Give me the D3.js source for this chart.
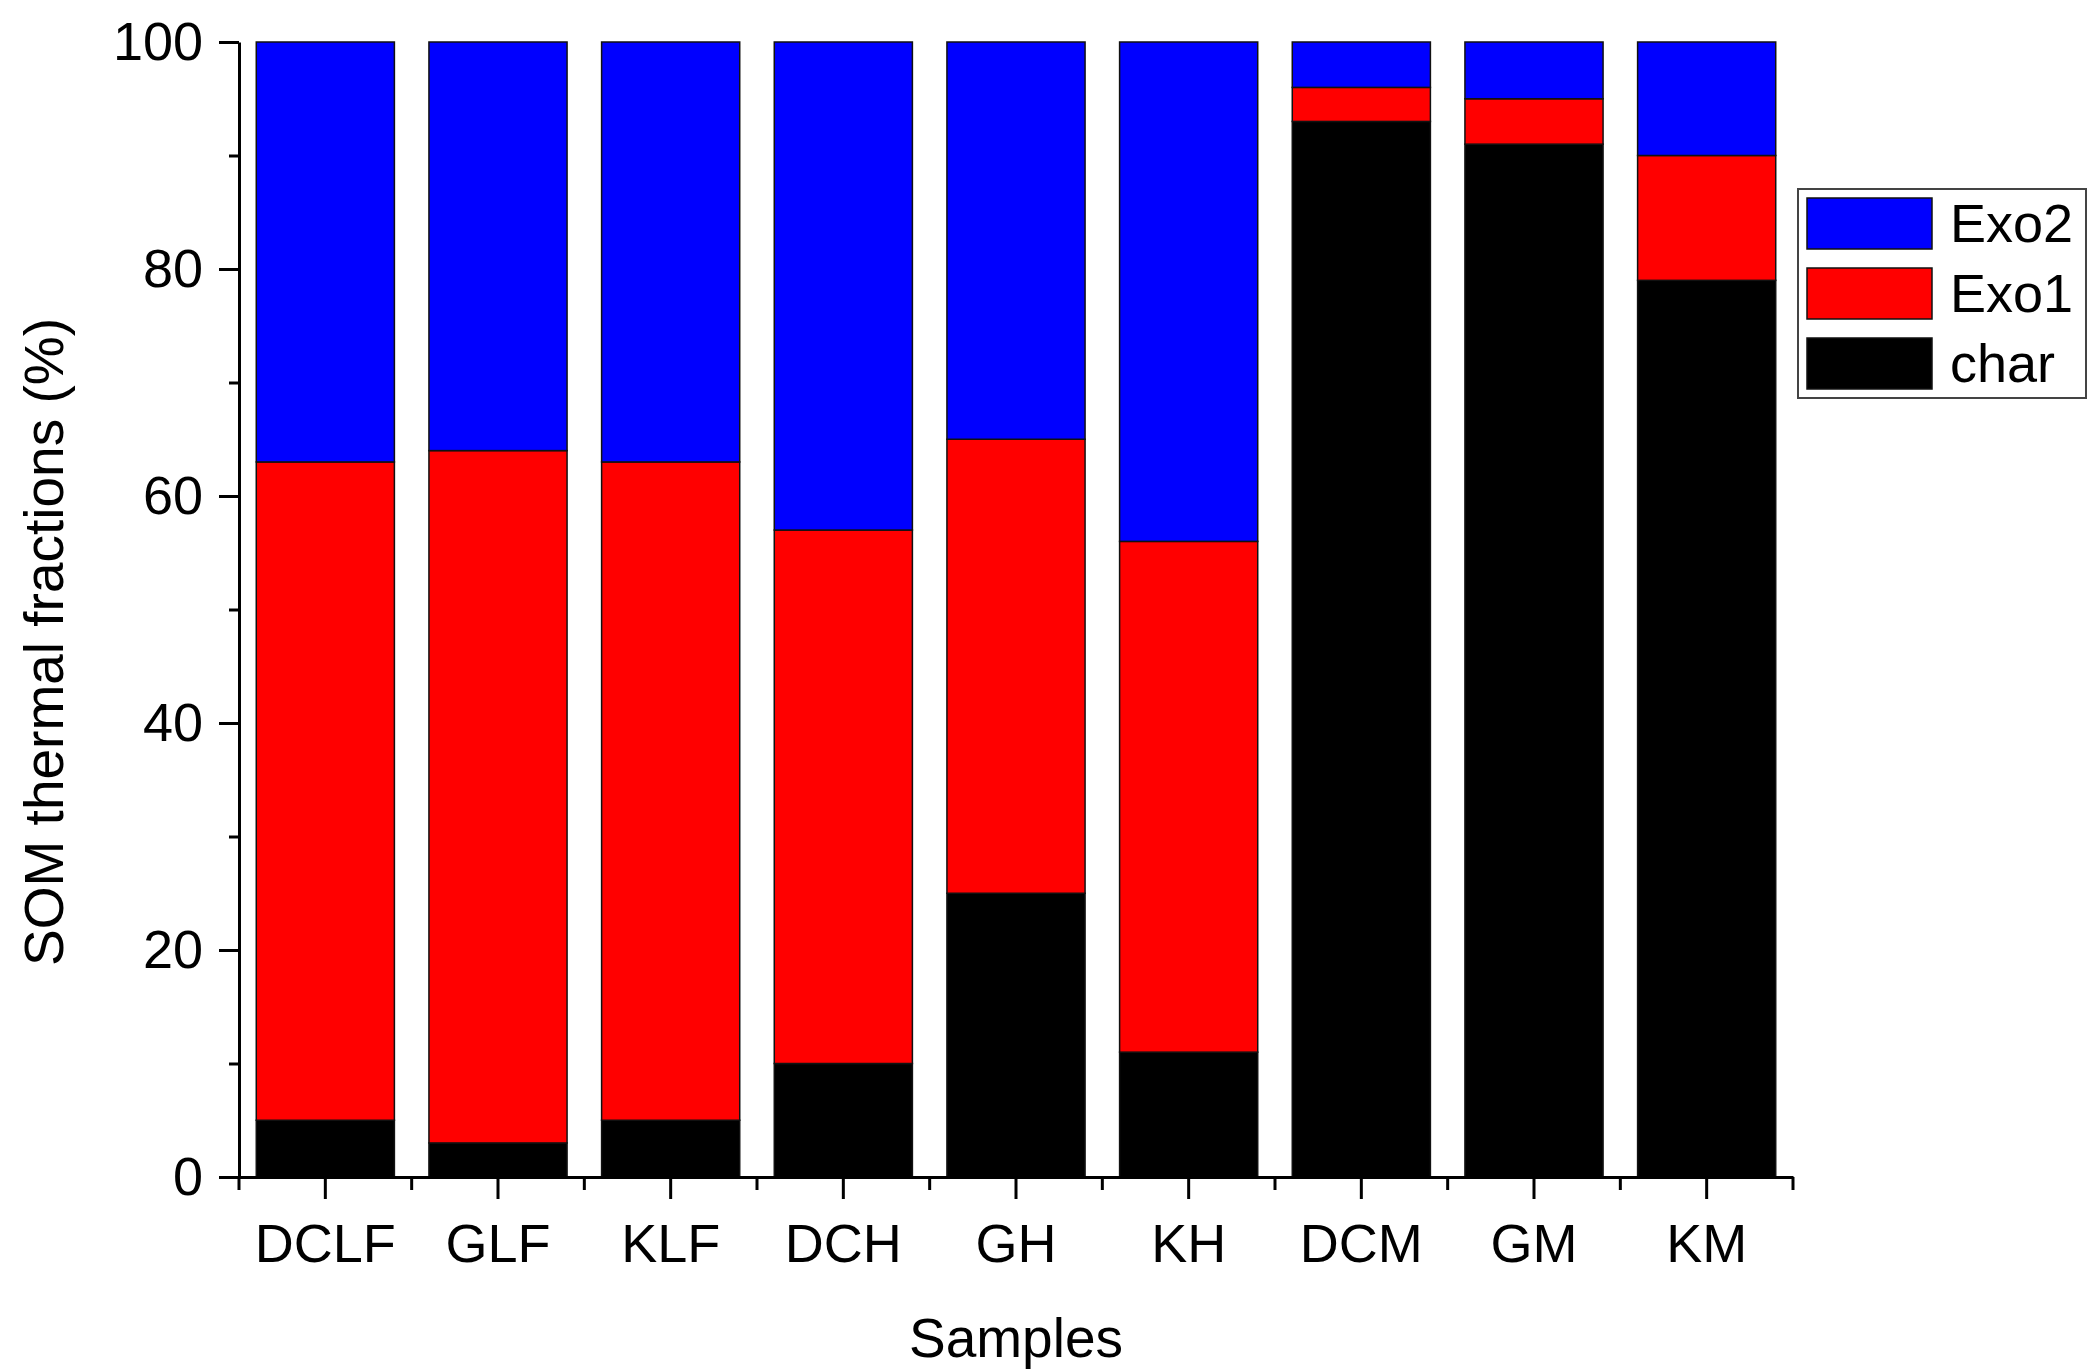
<!DOCTYPE html>
<html>
<head>
<meta charset="utf-8">
<script src="https://cdn.jsdelivr.net/npm/d3@7"></script>
<style>
  body { margin: 0; background: #fff; }
  svg text { font-family: "Liberation Sans", Arial, sans-serif; fill: #000; }
</style>
</head>
<body>
<div id="chart"></div>
<script>
// Sample names along the x axis
const SAMPLES = ["DCLF", "GLF", "KLF", "DCH", "GH", "KH", "DCM", "GM", "KM"];
// Thermal fractions (%) per sample, stacked bottom to top: char, Exo1, Exo2
const CHAR = [5, 3, 5, 10, 25, 11, 93, 91, 79];
const EXO1 = [58, 61, 58, 47, 40, 45, 3, 4, 11];
const EXO2 = [37, 36, 37, 43, 35, 44, 4, 5, 10];
const SERIES = ["char", "Exo1", "Exo2"];
const LEGEND_ORDER = ["Exo2", "Exo1", "char"];
const Y_MAJOR = [0, 20, 40, 60, 80, 100];
const Y_MINOR = [10, 30, 50, 70, 90];

const COLORS = { char: "#000000", Exo1: "#ff0000", Exo2: "#0000ff" };
const WIDTH = 2089;
const HEIGHT = 1370;
const PLOT = { left: 239, right: 1793, top: 42, bottom: 1177 };
const FONT = 54;

main();

function main() {
  const svg = d3.select("#chart").append("svg")
    .attr("width", WIDTH)
    .attr("height", HEIGHT);

  const x = d3.scaleBand()
    .domain(SAMPLES)
    .range([PLOT.left, PLOT.right])
    .paddingInner(0.2)
    .paddingOuter(0.1);
  const y = d3.scaleLinear()
    .domain([0, 100])
    .range([PLOT.bottom, PLOT.top]);

  drawBars(svg, x, y);
  drawAxes(svg, x, y);
  drawLegend(svg);
}

// stack the three fractions and draw one rect per segment
function drawBars(svg, x, y) {
  const rows = SAMPLES.map((s, i) => ({ sample: s, char: CHAR[i], Exo1: EXO1[i], Exo2: EXO2[i] }));
  const stacked = d3.stack().keys(SERIES)(rows);

  svg.append("g")
    .selectAll("g")
    .data(stacked)
    .join("g")
      .attr("fill", d => COLORS[d.key])
    .selectAll("rect")
    .data(d => d)
    .join("rect")
      .attr("x", d => x(d.data.sample))
      .attr("width", x.bandwidth())
      .attr("y", d => y(d[1]))
      .attr("height", d => y(d[0]) - y(d[1]))
      .attr("stroke", "#111")
      .attr("stroke-width", 1.5);
}

function drawAxes(svg, x, y) {
  // y axis, major ticks with labels then minor ticks
  const yAxis = svg.append("g")
    .attr("transform", `translate(${PLOT.left},0)`)
    .call(d3.axisLeft(y).tickValues(Y_MAJOR).tickSize(20).tickPadding(16).tickSizeOuter(0));
  svg.append("g")
    .attr("transform", `translate(${PLOT.left},0)`)
    .call(d3.axisLeft(y).tickValues(Y_MINOR).tickSize(10).tickFormat("").tickSizeOuter(0))
    .select(".domain").remove();

  // x axis, major ticks at bar centres
  const xAxis = svg.append("g")
    .attr("transform", `translate(0,${PLOT.bottom})`)
    .call(d3.axisBottom(x).tickSize(22).tickPadding(25).tickSizeOuter(0));

  // minor ticks on the boundaries between samples
  const half = x.step() / 2;
  const bounds = SAMPLES.map(s => x(s) + x.bandwidth() / 2 - half)
    .concat([x(SAMPLES[SAMPLES.length - 1]) + x.bandwidth() / 2 + half]);
  svg.append("g")
    .selectAll("line")
    .data(bounds)
    .join("line")
      .attr("x1", d => d).attr("x2", d => d)
      .attr("y1", PLOT.bottom).attr("y2", PLOT.bottom + 13)
      .attr("stroke", "#000")
      .attr("stroke-width", 3);

  [yAxis, xAxis].forEach(g => {
    g.select(".domain").attr("stroke-width", 3);
    g.selectAll(".tick line").attr("stroke-width", 3);
    g.selectAll(".tick text").style("font-size", FONT + "px");
  });
  svg.selectAll("g line").attr("stroke-width", 3);

  // axis titles
  svg.append("text")
    .attr("x", (PLOT.left + PLOT.right) / 2)
    .attr("y", 1357)
    .attr("text-anchor", "middle")
    .style("font-size", "55px")
    .text("Samples");
  svg.append("text")
    .attr("transform", "translate(63,642) rotate(-90)")
    .attr("text-anchor", "middle")
    .style("font-size", "55px")
    .text("SOM thermal fractions (%)");
}

function drawLegend(svg) {
  const legend = svg.append("g");
  legend.append("rect")
    .attr("x", 1798).attr("y", 189)
    .attr("width", 288).attr("height", 209)
    .attr("fill", "#fff")
    .attr("stroke", "#444")
    .attr("stroke-width", 2);

  const item = legend.selectAll("g.item")
    .data(LEGEND_ORDER)
    .join("g")
      .attr("class", "item")
      .attr("transform", (d, i) => `translate(0,${198 + i * 70})`);
  item.append("rect")
    .attr("x", 1807).attr("width", 125).attr("height", 51)
    .attr("fill", d => COLORS[d])
    .attr("stroke", "#111")
    .attr("stroke-width", 1.5);
  item.append("text")
    .attr("x", 1950)
    .attr("y", 44)
    .style("font-size", FONT + "px")
    .text(d => d);
}
</script>
</body>
</html>
